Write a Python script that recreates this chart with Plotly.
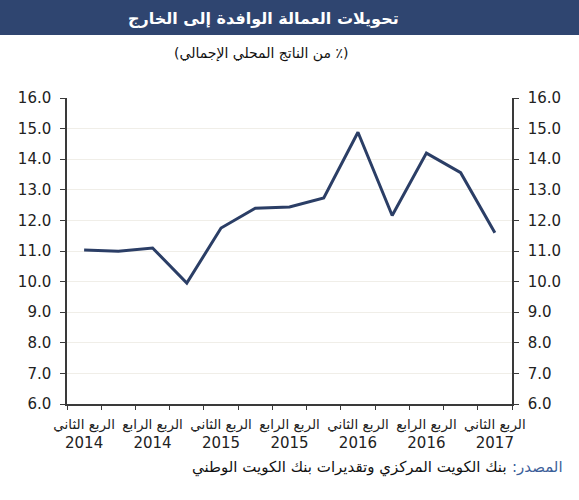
import plotly.graph_objects as go

quarters = ["الربع الثاني 2014", "الربع الثالث 2014", "الربع الرابع 2014",
            "الربع الأول 2015", "الربع الثاني 2015", "الربع الثالث 2015", "الربع الرابع 2015",
            "الربع الأول 2016", "الربع الثاني 2016", "الربع الثالث 2016", "الربع الرابع 2016",
            "الربع الأول 2017", "الربع الثاني 2017"]
remittances = [11.03, 10.99, 11.1, 9.95, 11.75, 12.4, 12.44, 12.73, 14.88, 12.16, 14.2, 13.56, 11.6]
tick_positions = [0, 2, 4, 6, 8, 10, 12]
tick_quarters = ["الربع الثاني", "الربع الرابع", "الربع الثاني", "الربع الرابع",
                 "الربع الثاني", "الربع الرابع", "الربع الثاني"]
tick_years = ["2014", "2014", "2015", "2015", "2016", "2016", "2017"]
y_ticks = [6, 7, 8, 9, 10, 11, 12, 13, 14, 15, 16]

FONT = "DejaVu Sans"
AX = "#3a3a3a"
NAVY = "#2f4570"
RLE, PDF = "\u202B", "\u202C"

x_idx = list(range(len(quarters)))
ticktext = [f"<span style='font-size:13.5px'>{q}</span><br>{y}" for q, y in zip(tick_quarters, tick_years)]
boundaries = [i - 0.5 for i in range(len(quarters) + 1)]

fig = go.Figure()
fig.add_trace(go.Scatter(x=x_idx, y=remittances, mode="lines",
                         line=dict(color="#2b3e66", width=3), hovertext=quarters,
                         showlegend=False))
fig.add_trace(go.Scatter(x=[None], y=[None], xaxis="x2", yaxis="y2",
                         showlegend=False, hoverinfo="skip"))

yax = dict(range=[6, 16], tickvals=y_ticks, tickformat=".1f", ticks="outside",
           ticklen=5, tickcolor=AX, showline=True, linecolor=AX, linewidth=1.5,
           zeroline=False, tickfont=dict(family=FONT, size=15, color="#222"),
           ticklabelstandoff=6, fixedrange=True)

fig.update_layout(
    width=579, height=500,
    margin=dict(l=67, r=67, t=98, b=96),
    paper_bgcolor="white", plot_bgcolor="white",
    font=dict(family=FONT, color="#222"),
    xaxis=dict(range=[-0.5, 12.5], tickvals=tick_positions, ticktext=ticktext,
               ticks="", showline=True, linecolor=AX, linewidth=1.5, showgrid=False,
               zeroline=False, tickfont=dict(family=FONT, size=15, color="#222"),
               ticklabelstandoff=5, tickangle=0),
    xaxis2=dict(range=[-0.5, 12.5], overlaying="x", side="bottom", anchor="y",
                tickvals=boundaries, ticks="outside", ticklen=5, tickcolor=AX,
                showticklabels=False, showgrid=False, zeroline=False, showline=False),
    yaxis=dict(**yax, side="left", showgrid=True, gridcolor="#f0eee8", gridwidth=1),
    yaxis2=dict(**yax, side="right", overlaying="y", anchor="x", showgrid=False),
    shapes=[dict(type="rect", xref="paper", yref="paper", x0=-0.2, x1=1.2,
                 y0=1 + (98 - 35) / 306, y1=1 + 98 / 306 + 0.05,
                 fillcolor=NAVY, line=dict(width=0), layer="below")],
    annotations=[
        dict(text=RLE + "تحويلات العمالة الوافدة إلى الخارج" + PDF, x=263, y=18,
             xref="paper", yref="paper", showarrow=False,
             font=dict(family=FONT, size=16, color="white", weight="bold")),
        dict(text=RLE + "(٪ من الناتج المحلي الإجمالي)" + PDF, x=261, y=53,
             xref="paper", yref="paper", showarrow=False,
             font=dict(family=FONT, size=14, color="#111")),
        dict(text=RLE + "المصدر:" + PDF, x=565, y=467, xanchor="right",
             xref="paper", yref="paper", showarrow=False,
             font=dict(family=FONT, size=15, color="#3d5f9a")),
        dict(text=RLE + "بنك الكويت المركزي وتقديرات بنك الكويت الوطني" + PDF, x=509, y=467,
             xanchor="right", xref="paper", yref="paper", showarrow=False,
             font=dict(family=FONT, size=15, color="#111")),
    ],
)

# convert pixel positions of annotations to paper coordinates
pw, ph = 579 - 67 - 67, 500 - 98 - 96
for a in fig.layout.annotations:
    px, py = a.x, a.y
    a.x = (px - 67) / pw
    a.y = 1 - (py - 98) / ph
    a.yanchor = "middle"
    if a.xanchor is None:
        a.xanchor = "center"

fig.write_html("out.html")
